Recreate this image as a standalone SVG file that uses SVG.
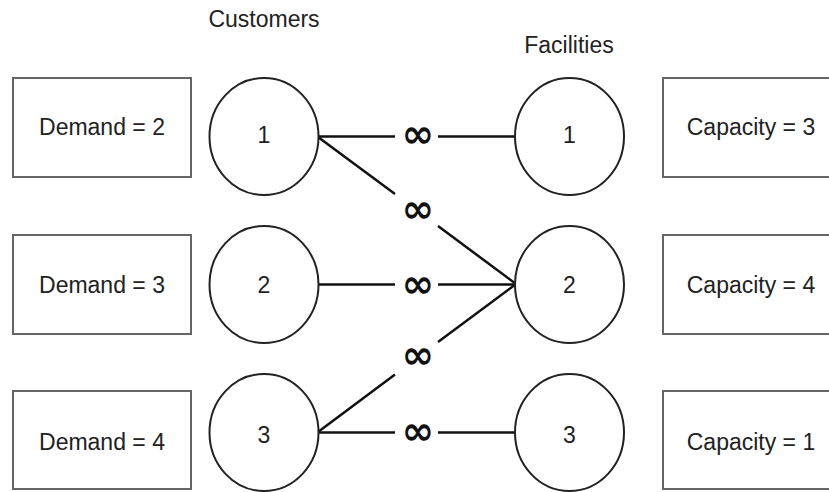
<svg xmlns="http://www.w3.org/2000/svg" width="829" height="492" viewBox="0 0 829 492">
<style>
.box{fill:#fff;stroke:#666;stroke-width:2}
.node{fill:#fff;stroke:#222;stroke-width:2}
.t{font-family:"Liberation Sans",Arial,sans-serif;font-size:23px;fill:#222;text-anchor:middle}
.edge{stroke:#111;stroke-width:2.5;fill:none}
.inf{font-family:"DejaVu Sans",sans-serif;font-weight:bold;font-size:39px;fill:#111;text-anchor:middle}
</style>
<rect width="829" height="492" fill="#fff"/>
<text class="t" x="264" y="27">Customers</text>
<text class="t" x="569" y="53">Facilities</text>
<g id="connectors">
<path class="edge" d="M318,136.5H395M438,136.5H516"/>
<path class="edge" d="M318,137L395,194M438,226L516,284"/>
<path class="edge" d="M318,284.5H395M438,284.5H516"/>
<path class="edge" d="M318,432L395,374.5M438,342L516,284"/>
<path class="edge" d="M318,432.5H395M438,432.5H516"/>
<text class="inf" x="418" y="147">∞</text>
<text class="inf" x="418" y="222">∞</text>
<text class="inf" x="418" y="297">∞</text>
<text class="inf" x="418" y="368">∞</text>
<text class="inf" x="418" y="444">∞</text>
</g>
<g id="demand1"><rect class="box" x="13" y="78" width="178" height="99"/><text class="t" x="102" y="135">Demand = 2</text></g>
<g id="demand2"><rect class="box" x="13" y="235" width="178" height="99"/><text class="t" x="102" y="293">Demand = 3</text></g>
<g id="demand3"><rect class="box" x="13" y="391" width="178" height="98"/><text class="t" x="102" y="450">Demand = 4</text></g>
<g id="customer1"><ellipse class="node" cx="264" cy="136.5" rx="54.5" ry="58.5"/><text class="t" x="264" y="143">1</text></g>
<g id="customer2"><ellipse class="node" cx="264" cy="284.5" rx="54.5" ry="58.5"/><text class="t" x="264" y="293">2</text></g>
<g id="customer3"><ellipse class="node" cx="264" cy="432.5" rx="54.5" ry="58.5"/><text class="t" x="264" y="443">3</text></g>
<g id="facility1"><ellipse class="node" cx="569.5" cy="136.5" rx="54.5" ry="58.5"/><text class="t" x="569.5" y="143">1</text></g>
<g id="facility2"><ellipse class="node" cx="569.5" cy="284.5" rx="54.5" ry="58.5"/><text class="t" x="569.5" y="293">2</text></g>
<g id="facility3"><ellipse class="node" cx="569.5" cy="432.5" rx="54.5" ry="58.5"/><text class="t" x="569.5" y="443">3</text></g>
<g id="capacity1"><rect class="box" x="663" y="78" width="178" height="99"/><text class="t" x="751" y="135">Capacity = 3</text></g>
<g id="capacity2"><rect class="box" x="663" y="235" width="178" height="99"/><text class="t" x="751" y="293">Capacity = 4</text></g>
<g id="capacity3"><rect class="box" x="663" y="391" width="178" height="98"/><text class="t" x="751" y="450">Capacity = 1</text></g>
</svg>
